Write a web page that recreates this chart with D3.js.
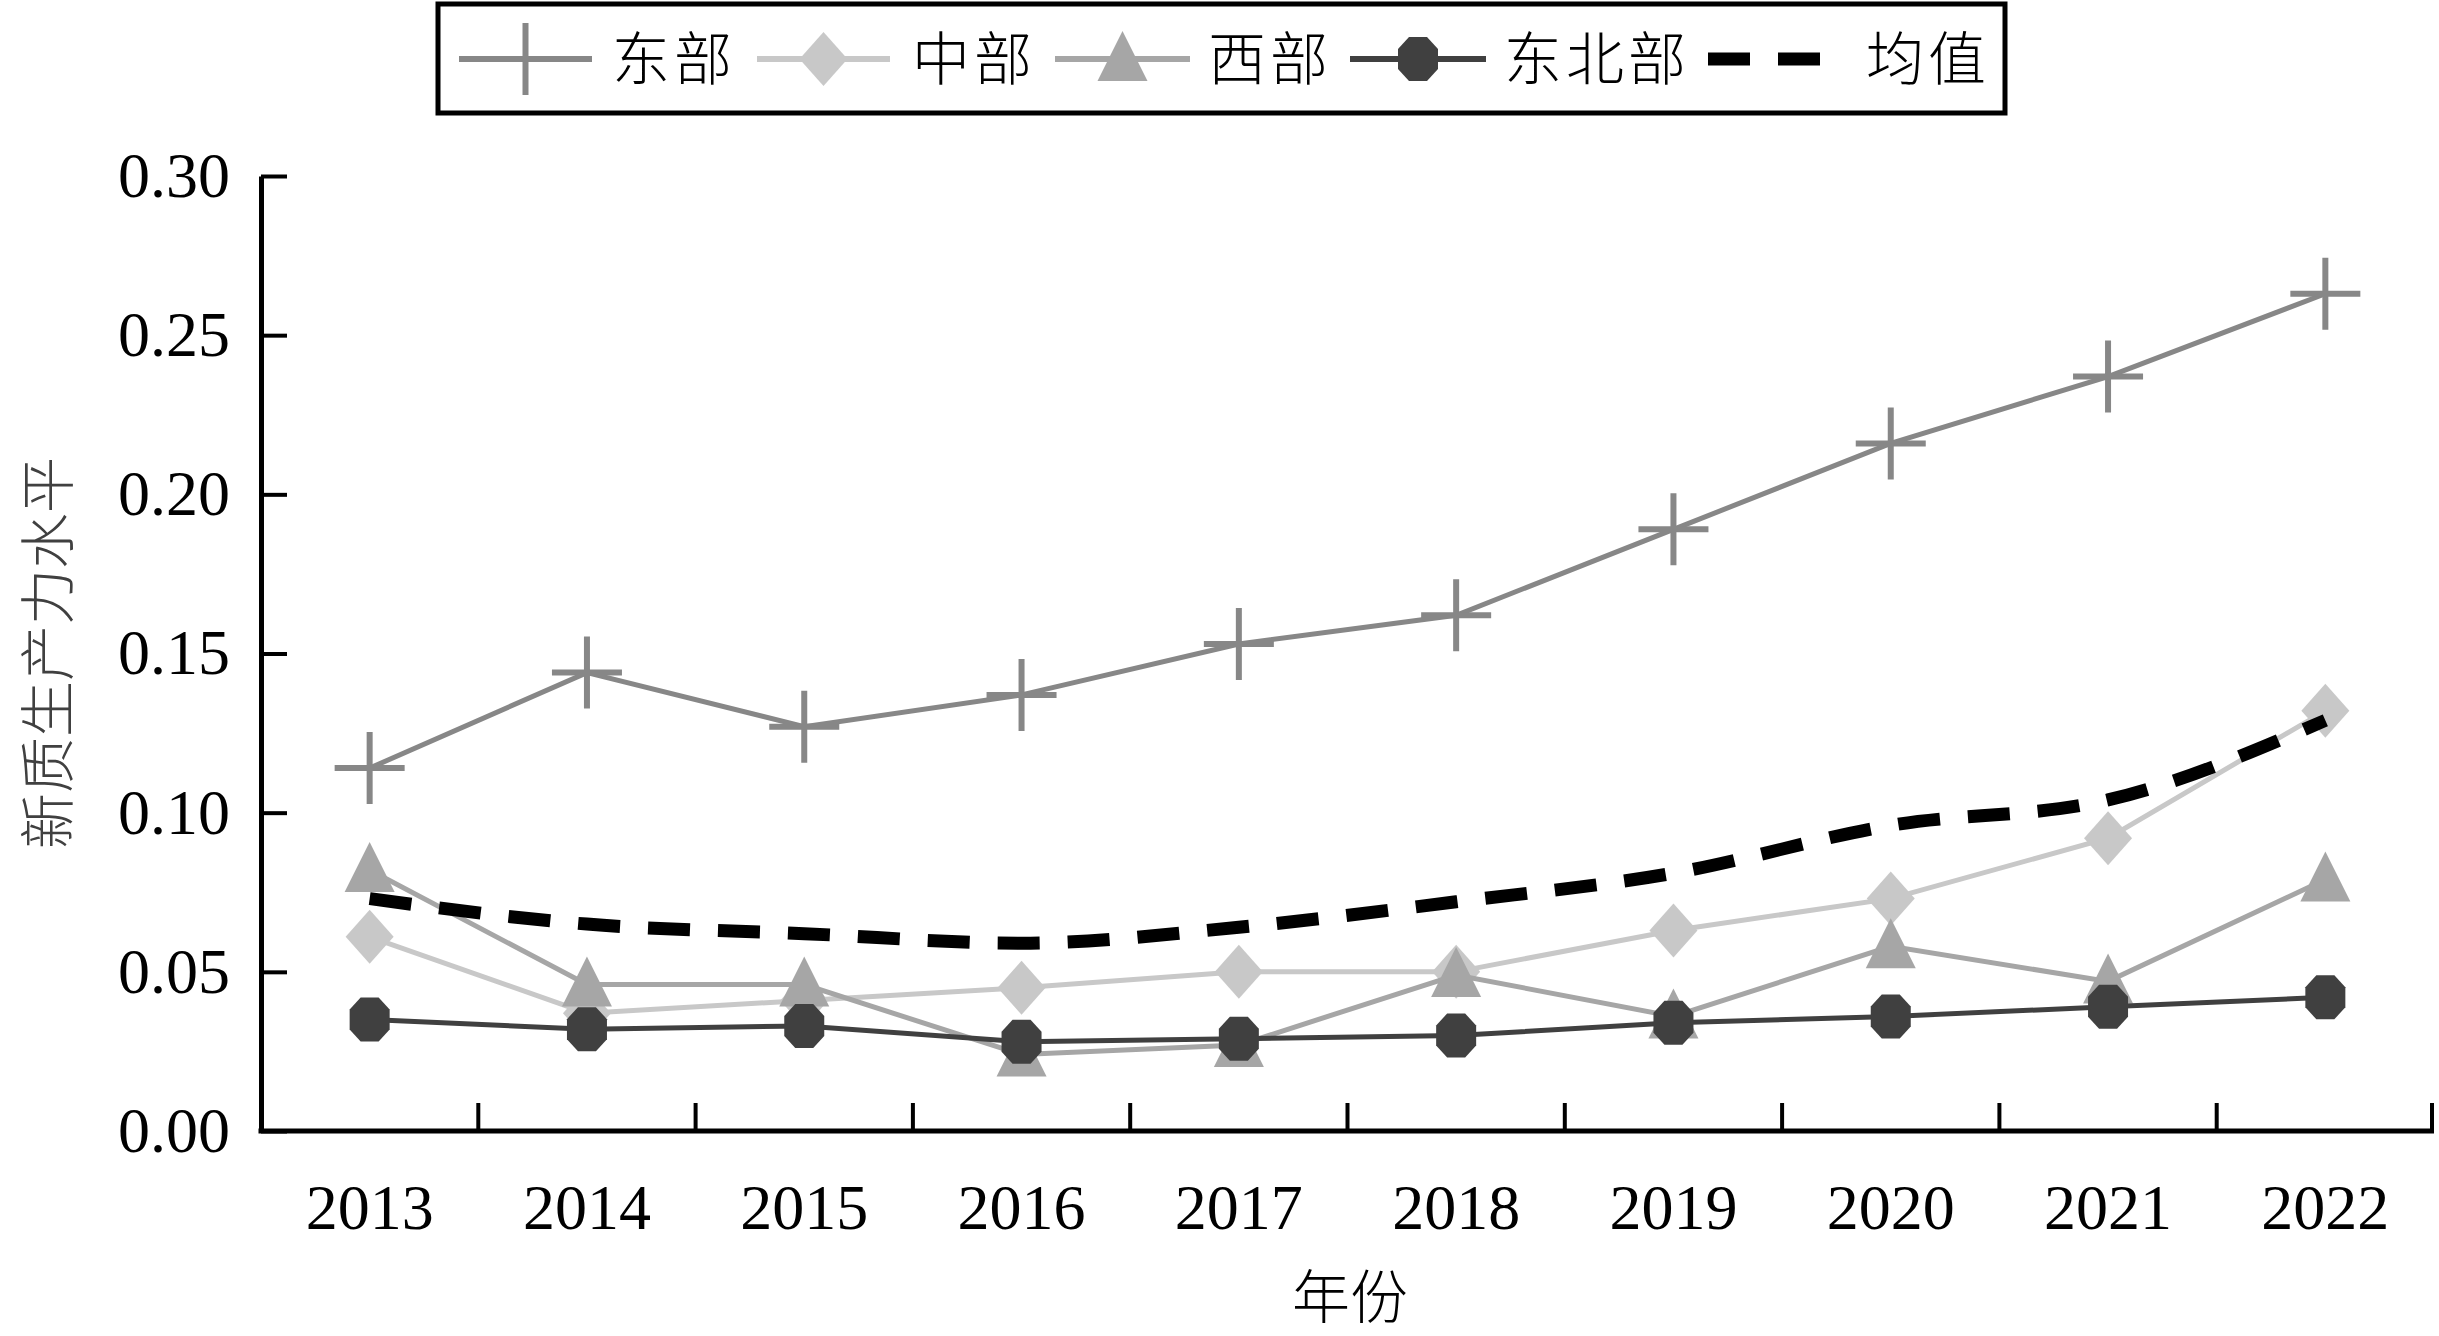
<!DOCTYPE HTML>
<html>
	<head>
		<meta charset="utf-8">
		<title>新质生产力水平</title>
		<script src="https://d3js.org/d3.v7.min.js"></script>
		<style>
			body { margin: 0; background: #fff; }
			svg { display: block; }
			.num { font-family: "Liberation Serif", "Times New Roman", serif; }
			.cjk { font-family: "Noto Sans CJK SC", sans-serif; font-weight: 300; }
		</style>
	</head>
	<body>
		<svg id="viz" width="2439" height="1336"></svg>
		<script>
			// data
			const years = ["2013", "2014", "2015", "2016", "2017", "2018", "2019", "2020", "2021", "2022"]
			const east = [0.114, 0.144, 0.127, 0.137, 0.153, 0.162, 0.189, 0.216, 0.237, 0.263]
			const central = [0.061, 0.037, 0.041, 0.045, 0.050, 0.050, 0.063, 0.073, 0.092, 0.132]
			const west = [0.082, 0.046, 0.046, 0.024, 0.027, 0.049, 0.036, 0.058, 0.047, 0.079]
			const northeast = [0.035, 0.032, 0.033, 0.028, 0.029, 0.030, 0.034, 0.036, 0.039, 0.042]
			const mean = [0.073, 0.065, 0.062, 0.059, 0.064, 0.072, 0.081, 0.096, 0.104, 0.129]
			const yTicks = [0, 0.05, 0.10, 0.15, 0.20, 0.25, 0.30]

			const series = [
				{ name: "东部", values: east, color: "#878787", marker: "plus", width: 5 },
				{ name: "中部", values: central, color: "#c8c8c8", marker: "diamond", width: 5 },
				{ name: "西部", values: west, color: "#a6a6a6", marker: "triangle", width: 5 },
				{ name: "东北部", values: northeast, color: "#404040", marker: "circle", width: 5 },
				{ name: "均值", values: mean, color: "#000000", marker: null, width: 13, dash: "42,28" }
			]

			const svg = d3.select("#viz")
			const plotL = 261, plotR = 2434, plotT = 176, plotB = 1131

			const x = d3.scaleBand().domain(years).range([plotL, plotR])
			const y = d3.scaleLinear().domain([0, 0.30]).range([plotB, plotT])
			const cx = d => x(d) + x.bandwidth() / 2

			// marker path, centred on 0,0
			function markerPath(type) {
				if (type === "diamond") return "M0,-27L24,0L0,27L-24,0Z"
				if (type === "triangle") return "M0,-28L25,22L-25,22Z"
				if (type === "circle") return "M-9,-22L9,-22L20,-10L20,10L9,22L-9,22L-20,10L-20,-10Z"
				return "M-35,0L35,0M0,-36L0,36"
			}
			function drawMarker(g, type, color) {
				const p = g.append("path").attr("d", markerPath(type))
				if (type === "plus") p.attr("fill", "none").attr("stroke", color).attr("stroke-width", 6)
				else p.attr("fill", color)
			}

			// y axis
			const yAxis = svg.append("g")
				.attr("transform", `translate(${plotL},0)`)
				.call(d3.axisLeft(y).tickValues(yTicks).tickFormat(d3.format(".2f"))
					.tickSize(-26).tickSizeOuter(0).tickPadding(31))
			yAxis.attr("font-family", null).attr("font-size", null)
			yAxis.select(".domain").attr("stroke-width", 5)
			yAxis.selectAll(".tick line").attr("stroke-width", 4)
			yAxis.selectAll(".tick text").attr("class", "num").attr("font-size", 64).attr("fill", "#000")

			// x axis: baseline, ticks at band boundaries, labels at band centres
			const xAxis = svg.append("g")
			xAxis.append("line")
				.attr("x1", plotL - 2.5).attr("x2", plotR).attr("y1", plotB).attr("y2", plotB)
				.attr("stroke", "#000").attr("stroke-width", 5)
			xAxis.selectAll("line.tk").data(years.slice(1).concat(["end"])).enter().append("line")
				.attr("class", "tk")
				.attr("x1", d => d === "end" ? plotR - 2 : x(d)).attr("x2", d => d === "end" ? plotR - 2 : x(d))
				.attr("y1", plotB).attr("y2", plotB - 28)
				.attr("stroke", "#000").attr("stroke-width", 4)
			xAxis.selectAll("text").data(years).enter().append("text")
				.attr("class", "num").attr("font-size", 64)
				.attr("text-anchor", "middle")
				.attr("x", d => cx(d)).attr("y", 1229)
				.text(d => d)

			// axis titles
			svg.append("text").attr("class", "cjk").attr("font-size", 58)
				.attr("text-anchor", "middle").attr("x", 1350).attr("y", 1318)
				.text("年份")
			svg.append("text").attr("class", "cjk").attr("font-size", 56).attr("fill", "#404040")
				.attr("text-anchor", "middle")
				.attr("transform", "translate(68,653) rotate(-90)")
				.text("新质生产力水平")

			// series
			series.forEach(s => {
				const pts = years.map((yr, i) => [cx(yr), y(s.values[i])])
				const line = s.dash ? d3.line().curve(d3.curveMonotoneX) : d3.line()
				svg.append("path")
					.attr("d", line(pts))
					.attr("fill", "none").attr("stroke", s.color)
					.attr("stroke-width", s.width)
					.attr("stroke-dasharray", s.dash || null)
				if (s.marker) {
					pts.forEach(p => {
						const g = svg.append("g").attr("transform", `translate(${p[0]},${p[1]})`)
						drawMarker(g, s.marker, s.color)
					})
				}
			})

			// legend
			const legend = svg.append("g")
			legend.append("rect")
				.attr("x", 438).attr("y", 4).attr("width", 1567).attr("height", 109)
				.attr("fill", "#fff").attr("stroke", "#000").attr("stroke-width", 5)
			const legendPos = [
				{ x0: 459, x1: 592, tx: 612 },
				{ x0: 757, x1: 890, tx: 912 },
				{ x0: 1055, x1: 1190, tx: 1208 },
				{ x0: 1350, x1: 1486, tx: 1504 },
				{ x0: 1708, x1: 1820, tx: 1866 }
			]
			series.forEach((s, i) => {
				const lp = legendPos[i], ly = 59
				legend.append("line")
					.attr("x1", lp.x0).attr("x2", lp.x1).attr("y1", ly).attr("y2", ly)
					.attr("stroke", s.color).attr("stroke-width", s.dash ? 13 : 6)
					.attr("stroke-dasharray", s.dash || null)
				if (s.marker) {
					const g = legend.append("g").attr("transform", `translate(${(lp.x0 + lp.x1) / 2},${ly})`)
					drawMarker(g, s.marker, s.color)
				}
				legend.append("text").attr("class", "cjk").attr("font-size", 58)
					.attr("letter-spacing", 4)
					.attr("x", lp.tx).attr("y", ly + 21)
					.text(s.name)
			})
		</script>
	</body>
</html>
